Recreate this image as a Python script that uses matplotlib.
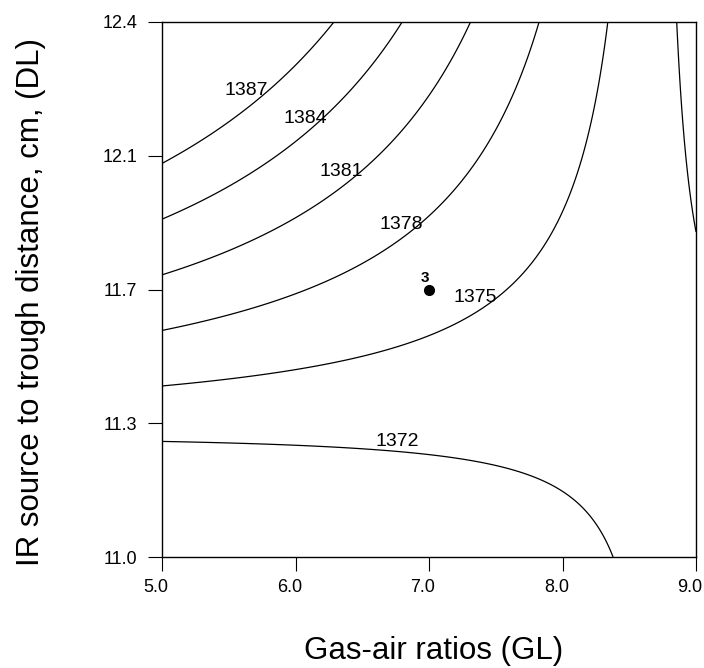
import numpy as np
import matplotlib
matplotlib.use("Agg")
import matplotlib.pyplot as plt
from matplotlib.transforms import ScaledTranslation

plt.rcParams['font.family'] = ['Liberation Sans', 'DejaVu Sans']

# Response-surface model (quadratic)
# Z = b0 + b1*u + b2*v + b11*u^2 + b22*v^2 + b12*u*v, u = GL-7, v = DL-11.7
gl_center = 7.0
dl_center = 11.7
coef_b0 = 1376.1579
coef_b1 = -1.9972
coef_b2 = 9.5828
coef_b11 = 0.0143
coef_b22 = -0.0943
coef_b12 = -5.515

contour_levels = [1372, 1375, 1378, 1381, 1384, 1387]
label_text = ['1387', '1384', '1381', '1378', '1375', '1372']
label_x = [5.63, 6.07, 6.34, 6.79, 7.35, 6.76]
label_y = [12.222, 12.148, 12.008, 11.869, 11.68, 11.303]

point_x = [7.0]
point_y = [11.70]
point_label = ['3']

x_ticks = [5.0, 6.0, 7.0, 8.0, 9.0]
x_ticklabels = ['5.0', '6.0', '7.0', '8.0', '9.0']
y_ticks = [11.0, 11.35, 11.7, 12.05, 12.4]
y_ticklabels = ['11.0', '11.3', '11.7', '12.1', '12.4']

gl = np.linspace(5.0, 9.0, 500)
dl = np.linspace(11.0, 12.4, 500)
GL, DL = np.meshgrid(gl, dl)
U = GL - gl_center
V = DL - dl_center
Z = (coef_b0 + coef_b1 * U + coef_b2 * V + coef_b11 * U**2
     + coef_b22 * V**2 + coef_b12 * U * V)

fig = plt.figure(figsize=(7.04, 6.68), dpi=100)
ax = fig.add_axes([162/704, 1 - 557/668, (696-162)/704, (557-22)/668])
ax.contour(GL, DL, Z, levels=contour_levels, colors='black', linewidths=0.9)

for t, x, y in zip(label_text, label_x, label_y):
    ax.text(x, y, t, ha='center', va='center', fontsize=14)

ax.plot(point_x, point_y, 'o', color='black', markersize=7)
for t, x, y in zip(point_label, point_x, point_y):
    ax.annotate(t, (x, y), xytext=(-3, 8), textcoords='offset points',
                ha='center', va='center', fontsize=11, fontweight='bold')

ax.set_xlim(5.0, 9.0)
ax.set_ylim(11.0, 12.4)
ax.set_xticks(x_ticks)
ax.set_xticklabels(x_ticklabels)
ax.set_yticks(y_ticks)
ax.set_yticklabels(y_ticklabels)
ax.tick_params(direction='out', length=10, width=0.8, labelsize=13)
ax.tick_params(axis='x', pad=6)
ax.tick_params(axis='y', pad=8)
shift = ScaledTranslation(-6/100, 0, fig.dpi_scale_trans)
for lab in ax.get_xticklabels():
    lab.set_transform(lab.get_transform() + shift)
for s in ax.spines.values():
    s.set_linewidth(1.0)

ax.set_xlabel('Gas-air ratios (GL)', fontsize=22.5)
ax.set_ylabel('IR source to trough distance, cm, (DL)', fontsize=22.5)
ax.xaxis.set_label_coords((433.5-162)/534, (557-636)/535)
ax.yaxis.set_label_coords((46-162)/534, 1 - (302-22)/535)

fig.savefig('out.png', dpi=100)
